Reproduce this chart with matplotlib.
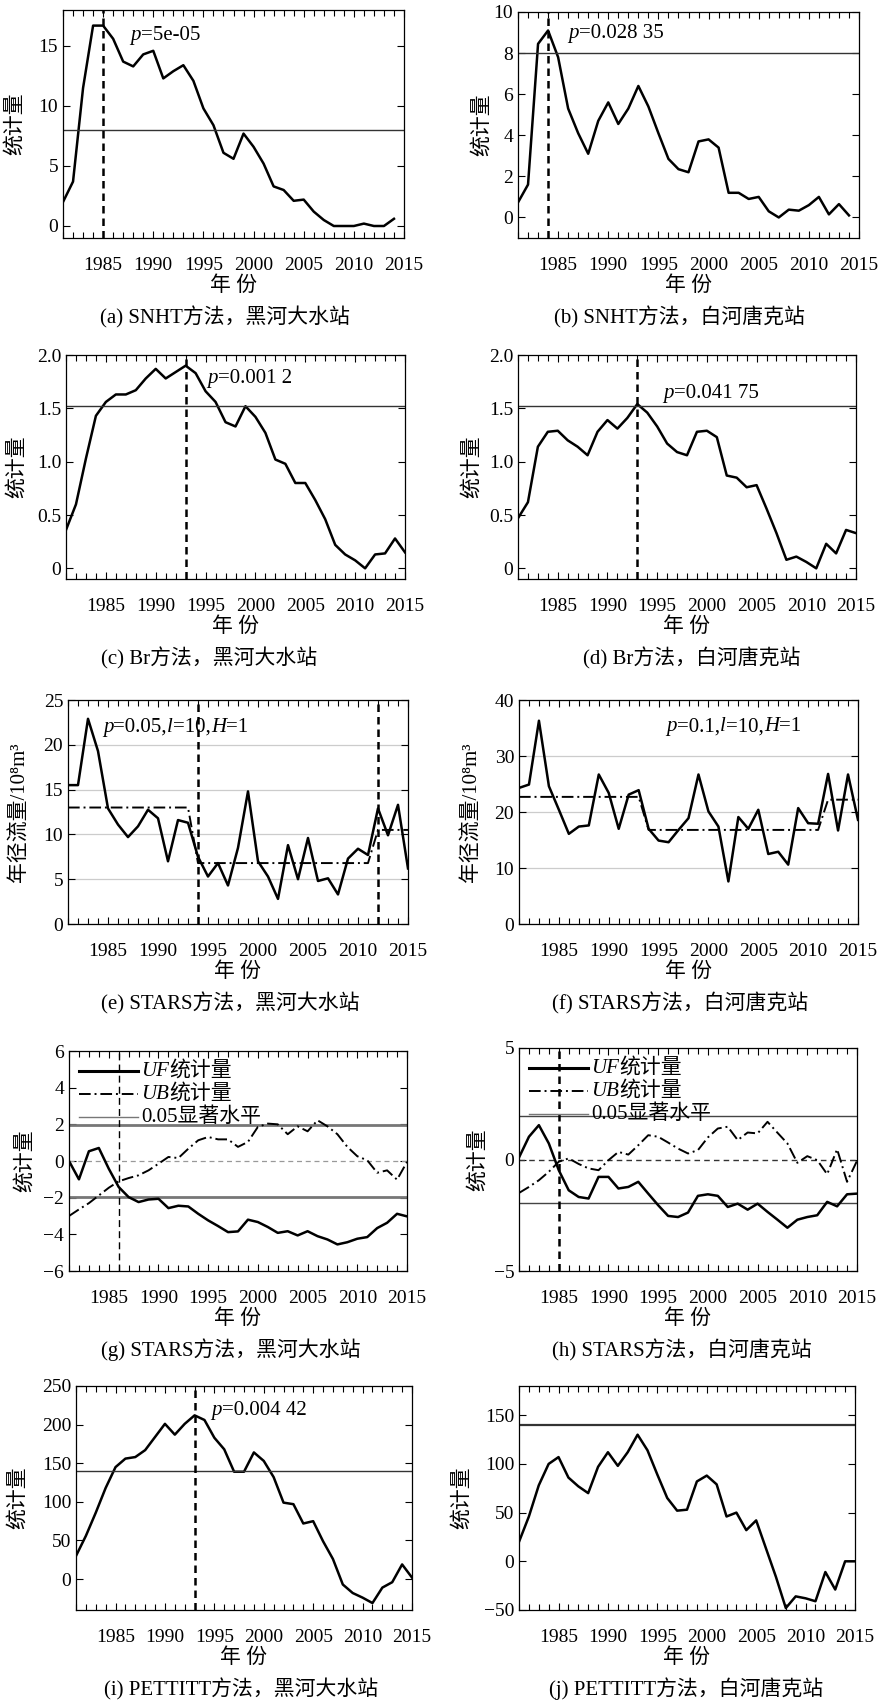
import matplotlib
matplotlib.use('Agg')
import matplotlib.pyplot as plt
from matplotlib.ticker import MultipleLocator, FixedLocator
from matplotlib.lines import Line2D
from matplotlib.offsetbox import (TextArea, HPacker, VPacker, DrawingArea,
                                  AnnotationBbox, AnchoredOffsetbox)

plt.rcParams['font.family'] = ['Liberation Serif', 'Noto Sans CJK SC']
plt.rcParams['font.size'] = 14
plt.rcParams['axes.linewidth'] = 0.9

# ---- data ----
years = list(range(1981, 2016))
years34 = years[:34]

snht_hh = [2.0, 3.7, 11.5, 16.7, 16.7, 15.6, 13.7, 13.3, 14.3, 14.6, 12.3, 12.9, 13.4, 12.1,
           9.8, 8.4, 6.1, 5.6, 7.7, 6.6, 5.2, 3.3, 3.0, 2.1, 2.2, 1.2, 0.5, 0.0, 0.0, 0.0,
           0.2, 0.0, 0.0, 0.6]
snht_bh = [0.73, 1.6, 8.45, 9.1, 7.8, 5.3, 4.1, 3.1, 4.7, 5.6, 4.55, 5.3, 6.4, 5.4, 4.1,
           2.85, 2.35, 2.2, 3.7, 3.8, 3.4, 1.2, 1.2, 0.9, 1.0, 0.3, 0.0, 0.38, 0.33, 0.6,
           1.0, 0.15, 0.65, 0.1]
br_hh = [0.36, 0.6, 1.03, 1.43, 1.56, 1.63, 1.63, 1.67, 1.78, 1.87, 1.78, 1.84, 1.9, 1.83,
         1.66, 1.56, 1.37, 1.33, 1.52, 1.42, 1.27, 1.02, 0.98, 0.8, 0.8, 0.64, 0.46, 0.22,
         0.13, 0.075, 0.0, 0.13, 0.14, 0.28, 0.15]
br_bh = [0.47, 0.62, 1.14, 1.28, 1.29, 1.2, 1.14, 1.06, 1.28, 1.39, 1.31, 1.41, 1.54, 1.46,
         1.33, 1.17, 1.09, 1.06, 1.28, 1.29, 1.23, 0.87, 0.85, 0.76, 0.78, 0.56, 0.33, 0.08,
         0.11, 0.06, 0.0, 0.23, 0.14, 0.36, 0.33]
flow_hh = [15.5, 15.5, 22.9, 19.3, 12.9, 11.1, 9.7, 10.9, 12.75, 11.8, 7.0, 11.6, 11.3, 7.5,
           5.3, 6.8, 4.3, 8.5, 14.8, 7.0, 5.3, 2.8, 8.8, 5.0, 9.6, 4.8, 5.1, 3.3, 7.3, 8.4,
           7.7, 12.9, 9.9, 13.3, 6.2]
mean_hh = [13.0] * 13 + [6.8] * 18 + [10.5] * 4
flow_bh = [24.3, 24.9, 36.3, 24.6, 20.4, 16.1, 17.4, 17.6, 26.7, 23.4, 17.0, 23.1, 23.9, 17.0,
           14.9, 14.6, 16.8, 18.9, 26.7, 20.1, 17.4, 7.6, 19.1, 17.0, 20.4, 12.5, 12.9, 10.6,
           20.7, 18.0, 17.9, 26.8, 16.7, 26.7, 18.6]
mean_bh = [22.7] * 13 + [16.8] * 18 + [22.2] * 4
uf_hh = [0.0, -1.0, 0.53, 0.71, -0.42, -1.42, -1.97, -2.24, -2.1, -2.06, -2.57, -2.44, -2.48,
         -2.88, -3.24, -3.55, -3.88, -3.84, -3.2, -3.33, -3.6, -3.92, -3.83, -4.06, -3.83,
         -4.1, -4.28, -4.55, -4.43, -4.24, -4.15, -3.66, -3.37, -2.88, -3.02]
ub_hh = [-3.0, -2.64, -2.3, -1.88, -1.46, -1.11, -0.93, -0.78, -0.51, -0.15, 0.22, 0.16, 0.67,
         1.13, 1.31, 1.18, 1.18, 0.77, 1.04, 1.86, 2.04, 2.0, 1.46, 1.89, 1.62, 2.22, 1.89,
         1.46, 0.77, 0.26, 0.04, -0.64, -0.51, -1.02, -0.05]
uf_bh = [0.09, 1.02, 1.54, 0.72, -0.48, -1.38, -1.68, -1.75, -0.78, -0.78, -1.3, -1.23, -1.0,
         -1.53, -2.05, -2.53, -2.58, -2.38, -1.63, -1.56, -1.63, -2.13, -1.98, -2.25, -1.98,
         -2.35, -2.7, -3.06, -2.7, -2.58, -2.5, -1.9, -2.1, -1.56, -1.53]
ub_bh = [-1.5, -1.23, -0.93, -0.55, -0.1, 0.05, -0.2, -0.4, -0.48, -0.03, 0.34, 0.22, 0.64,
         1.09, 1.02, 0.76, 0.49, 0.27, 0.42, 0.99, 1.39, 1.47, 0.87, 1.21, 1.17, 1.69, 1.2,
         0.72, -0.15, 0.15, -0.03, -0.66, 0.46, -1.0, -0.06]
pett_hh = [30, 56, 86, 118, 145, 156, 158, 167, 184, 201, 187, 201, 212, 206, 183, 168, 139,
           139, 164, 153, 132, 99, 97, 72, 75, 49, 26, -7, -18, -24, -31, -11, -4, 19, 2]
pett_bh = [20, 46, 78, 100, 107, 86, 77, 70, 97, 112, 98, 112, 130, 114, 89, 65, 52, 53, 82,
           88, 79, 46, 50, 32, 42, 13, -16, -48, -36, -38, -41, -11, -29, 0, 0]

captions = ['(a) SNHT方法，黑河大水站', '(b) SNHT方法，白河唐克站',
            '(c) Br方法，黑河大水站', '(d) Br方法，白河唐克站',
            '(e) STARS方法，黑河大水站', '(f) STARS方法，白河唐克站',
            '(g) STARS方法，黑河大水站', '(h) STARS方法，白河唐克站',
            '(i) PETTITT方法，黑河大水站', '(j) PETTITT方法，白河唐克站']

W, H = 879, 1702
fig = plt.figure(figsize=(W / 100, H / 100), dpi=100)

# axes boxes in pixels: left, right, top, bottom
boxes = [(63, 404, 10, 238), (518, 859, 12, 238),
         (66, 405, 355, 579), (518, 856, 355, 579),
         (68, 408, 700, 924), (519, 858, 700, 924),
         (69, 407, 1051, 1271), (519, 857, 1048, 1271),
         (76, 412, 1386, 1610), (519, 855, 1386, 1610)]
cap_x = [225, 679, 209, 692, 230, 680, 231, 682, 241, 686]
ylab_x = [15, 482, 17, 472, 20, 472, 25, 478, 18, 462]

axes = []
for i, (l, r, t, b) in enumerate(boxes):
    ax = fig.add_axes([l / W, 1 - b / H, (r - l) / W, (b - t) / H])
    ax.set_xlim(1981, 2015)
    ax.xaxis.set_major_locator(FixedLocator([1985, 1990, 1995, 2000, 2005, 2010, 2015]))
    ax.xaxis.set_minor_locator(MultipleLocator(1))
    ax.tick_params(which='both', direction='in', top=True, right=True, labelsize=14)
    ax.tick_params(which='major', length=5, width=0.8)
    ax.tick_params(which='minor', length=4, width=0.8)
    ax.tick_params(axis='x', pad=14)
    fig.text((l + r) / 2 / W, 1 - (b + 48) / H, '年 份', ha='center', va='center', fontsize=15)
    fig.text(cap_x[i] / W, 1 - (b + 79) / H, captions[i], ha='center', va='center', fontsize=15)
    axes.append(ax)


def ylab(i, text):
    l, r, t, b = boxes[i]
    fig.text(ylab_x[i] / W, 1 - (t + b) / 2 / H, text, rotation=90,
             ha='center', va='center', fontsize=15)


def txt(parts):
    # parts: list of (string, italic?)
    kids = [TextArea(s, textprops=dict(fontsize=15, fontstyle='italic' if it else 'normal'))
            for s, it in parts]
    return HPacker(children=kids, align='baseline', pad=0, sep=0)


def ptext(ax, x, y, parts):
    ab = AnnotationBbox(txt(parts), (x, y), xycoords='data', box_alignment=(0, 0),
                        frameon=False, pad=0)
    ax.add_artist(ab)


def mk_legend(ax, styles, labels):
    rows = []
    for st, lab in zip(styles, labels):
        da = DrawingArea(43, 10, 0, 0)
        da.add_artist(Line2D([0, 43], [5, 5], **st))
        rows.append(HPacker(children=[da, txt(lab)], align='center', pad=0, sep=2))
    box = VPacker(children=rows, align='left', pad=0, sep=2.5)
    anc = AnchoredOffsetbox(loc='upper left', child=box, frameon=False,
                            pad=0, borderpad=0.5)
    ax.add_artist(anc)


lw = 1.8
thr_c = '#333333'
vdash = (0, (3, 2))
dashdot = (0, (6, 2, 1, 2))

# (a)
ax = axes[0]
ax.plot(years34, snht_hh, color='k', lw=lw)
ax.axhline(8.0, color=thr_c, lw=1.0)
ax.axvline(1985, color='k', lw=1.8, ls=vdash)
ax.set_ylim(-1, 18)
ax.set_yticks([0, 5, 10, 15])
ptext(ax, 1987.7, 15.1, [('p', True), ('=5e-05', False)])
ylab(0, '统计量')

# (b)
ax = axes[1]
ax.plot(years34, snht_bh, color='k', lw=lw)
ax.axhline(8.0, color=thr_c, lw=1.0)
ax.axvline(1984, color='k', lw=1.8, ls=vdash)
ax.set_ylim(-1, 10)
ax.set_yticks([0, 2, 4, 6, 8, 10])
ptext(ax, 1986.0, 8.5, [('p', True), ('=0.028 35', False)])
ylab(1, '统计量')

# (c)
ax = axes[2]
ax.plot(years, br_hh, color='k', lw=lw)
ax.axhline(1.52, color=thr_c, lw=1.0)
ax.axvline(1993, color='k', lw=1.8, ls=vdash)
ax.set_ylim(-0.1, 2.0)
ax.set_yticks([0, 0.5, 1.0, 1.5, 2.0])
ax.set_yticklabels(['0', '0.5', '1.0', '1.5', '2.0'])
ptext(ax, 1995.2, 1.69, [('p', True), ('=0.001 2', False)])
ylab(2, '统计量')

# (d)
ax = axes[3]
ax.plot(years, br_bh, color='k', lw=lw)
ax.axhline(1.52, color=thr_c, lw=1.0)
ax.axvline(1993, color='k', lw=1.8, ls=vdash)
ax.set_ylim(-0.1, 2.0)
ax.set_yticks([0, 0.5, 1.0, 1.5, 2.0])
ax.set_yticklabels(['0', '0.5', '1.0', '1.5', '2.0'])
ptext(ax, 1995.6, 1.55, [('p', True), ('=0.041 75', False)])
ylab(3, '统计量')

# (e)
ax = axes[4]
ax.grid(axis='y', color='#cccccc', lw=0.9)
ax.plot(years, flow_hh, color='k', lw=lw)
ax.plot(years, mean_hh, color='k', lw=1.4, ls=dashdot)
ax.axvline(1994, color='k', lw=1.8, ls=vdash)
ax.axvline(2012, color='k', lw=1.8, ls=vdash)
ax.set_ylim(0, 25)
ax.set_yticks([0, 5, 10, 15, 20, 25])
ptext(ax, 1984.5, 20.9, [('p', True), ('=0.05,', False), ('l', True), ('=10,', False),
                         ('H', True), ('=1', False)])
ylab(4, '年径流量/10⁸m³')

# (f)
ax = axes[5]
ax.grid(axis='y', color='#cccccc', lw=0.9)
ax.plot(years, flow_bh, color='k', lw=lw)
ax.plot(years, mean_bh, color='k', lw=1.4, ls=dashdot)
ax.set_ylim(0, 40)
ax.set_yticks([0, 10, 20, 30, 40])
ptext(ax, 1995.8, 33.5, [('p', True), ('=0.1,', False), ('l', True), ('=10,', False),
                         ('H', True), ('=1', False)])
ylab(5, '年径流量/10⁸m³')

# (g)
ax = axes[6]
ax.axhline(0, color='#999999', lw=0.9, ls=(0, (4, 3)))
ax.axhline(1.96, color='#777777', lw=2.0)
ax.axhline(-1.96, color='#777777', lw=2.0)
ax.axvline(1986, color='k', lw=1.0, ls=(0, (5, 3)))
ax.plot(years, uf_hh, color='k', lw=lw)
ax.plot(years, ub_hh, color='k', lw=1.4, ls=dashdot)
ax.set_ylim(-6, 6)
ax.set_yticks([-6, -4, -2, 0, 2, 4, 6])
ylab(6, '统计量')

# (h)
ax = axes[7]
ax.axhline(0, color='#333333', lw=1.0, ls=(0, (4, 3)))
ax.axhline(1.96, color='#444444', lw=1.0)
ax.axhline(-1.96, color='#444444', lw=1.0)
ax.axvline(1985, color='k', lw=1.8, ls=vdash)
ax.plot(years, uf_bh, color='k', lw=lw)
ax.plot(years, ub_bh, color='k', lw=1.4, ls=dashdot)
ax.set_ylim(-5, 5)
ax.set_yticks([-5, 0, 5])
ylab(7, '统计量')

leg_styles = [dict(color='k', lw=2.2),
              dict(color='k', lw=1.4, ls=dashdot),
              dict(color='#777777', lw=1.0)]
leg_labels = [[('UF', True), ('统计量', False)],
              [('UB', True), ('统计量', False)],
              [('0.05显著水平', False)]]
for ax in axes[6:8]:
    mk_legend(ax, leg_styles, leg_labels)

# (i)
ax = axes[8]
ax.plot(years, pett_hh, color='k', lw=lw)
ax.axhline(140, color=thr_c, lw=1.0)
ax.axvline(1993, color='k', lw=1.8, ls=vdash)
ax.set_ylim(-40, 250)
ax.set_yticks([0, 50, 100, 150, 200, 250])
ptext(ax, 1994.7, 206, [('p', True), ('=0.004 42', False)])
ylab(8, '统计量')

# (j)
ax = axes[9]
ax.plot(years, pett_bh, color='k', lw=lw)
ax.axhline(140, color=thr_c, lw=1.6)
ax.set_ylim(-50, 180)
ax.set_yticks([-50, 0, 50, 100, 150])
ylab(9, '统计量')

fig.savefig('out.png', dpi=100)
